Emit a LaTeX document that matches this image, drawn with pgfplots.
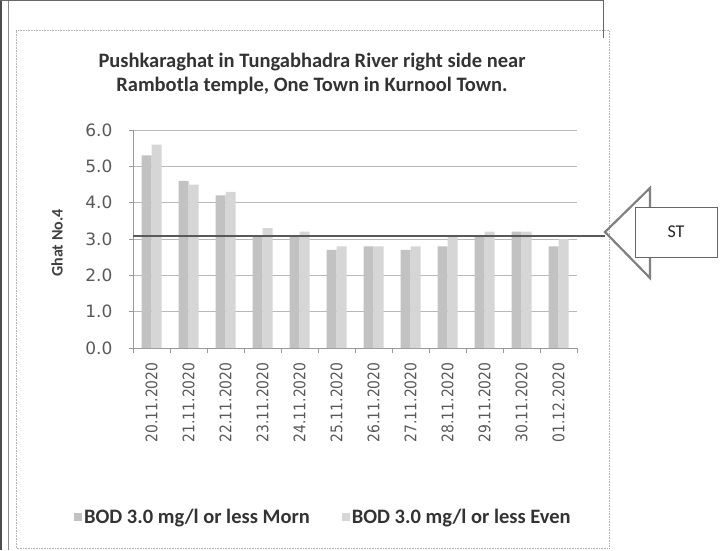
\documentclass[border=0pt]{standalone}
\usepackage{pgfplots}
\pgfplotsset{compat=1.18}
\usepackage{fontspec}
\setmainfont{Carlito}
\newfontfamily\tickfont{DejaVu Sans}
\newfontfamily\tickfontx[FakeStretch=0.87]{DejaVu Sans}
\definecolor{morn}{HTML}{C2C2C2}
\definecolor{even}{HTML}{D6D6D6}
\begin{document}
\begin{tikzpicture}[x=1pt,y=1pt]
\path[use as bounding box] (0,0) rectangle (724,550);
% page borders
\draw[black!70, line width=2pt] (1,0) -- (1,550);
\draw[black!45, line width=0.8pt] (8,0) -- (8,550);
\draw[black!60, line width=1pt] (0,549) -- (603,549) -- (603,512);
% chart frame
\draw[black!30, line width=0.6pt, densely dotted] (16,2) rectangle (609,520);
% title
\node[align=center, font=\bfseries\fontsize{20.5}{24}\selectfont, text=black!80] at (312,476)
  {Pushkaraghat in Tungabhadra River right side near\\Rambotla temple, One Town in Kurnool Town.};
% y label
\node[rotate=90, font=\bfseries\fontsize{16}{16}\selectfont, text=black!75] at (57,307) {Ghat No.4};
\begin{axis}[
  at={(133pt,202pt)}, anchor=south west,
  scale only axis, width=444pt, height=218pt,
  ybar=0pt, bar width=10pt,
  ymin=0, ymax=6, ytick={0,1,...,6},
  xmin=-0.5, xmax=11.5, xtick={0,...,11},
  xticklabels={20.11.2020,21.11.2020,22.11.2020,23.11.2020,24.11.2020,25.11.2020,26.11.2020,27.11.2020,28.11.2020,29.11.2020,30.11.2020,01.12.2020},
  minor xtick={-0.5,0.5,...,11.5},
  major x tick style={draw=none},
  axis x line*=bottom, axis y line*=left,
  axis line style={black!40, line width=0.7pt},
  tick style={black!40, line width=0.7pt},
  tick align=outside, major tick length=4pt, minor tick length=5pt,
  ymajorgrids, grid style={black!28, line width=0.6pt},
  /pgf/number format/assume math mode=true,
  yticklabel shift=13pt,
  xticklabel shift=7pt,
  yticklabel style={font=\tickfont\fontsize{17}{17}\selectfont, text=black!65,
    /pgf/number format/.cd, fixed, fixed zerofill, precision=1},
  xticklabel style={rotate=90, anchor=east, font=\tickfontx\fontsize{16}{16}\selectfont, text=black!65},
  clip=false,
  legend style={at={(-0.14,-0.775)}, anchor=west, draw=none, fill=none,
    legend columns=2, font=\bfseries\fontsize{20.5}{20.5}\selectfont, text=black!80,
    /tikz/every even column/.append style={column sep=30pt}},
  legend image code/.code={\fill[#1,draw=none] (0pt,-4pt) rectangle (8pt,4pt);},
]
\addplot[fill=morn, draw=none] coordinates {(0,5.3) (1,4.6) (2,4.2) (3,3.1) (4,3.1) (5,2.7) (6,2.8) (7,2.7) (8,2.8) (9,3.1) (10,3.2) (11,2.8)};
\addplot[fill=even, draw=none] coordinates {(0,5.6) (1,4.5) (2,4.3) (3,3.3) (4,3.2) (5,2.8) (6,2.8) (7,2.8) (8,3.1) (9,3.2) (10,3.2) (11,3.0)};
\legend{BOD 3.0 mg/l or less Morn, BOD 3.0 mg/l or less Even}
\draw[black!65, line width=2.5pt] (axis cs:-0.5,3.08) -- (axis cs:12.26,3.08);
\end{axis}
% ST arrow
\draw[black!50, line width=2.2pt, line join=miter] (605,318) -- (650,362) -- (650,272) -- cycle;
\draw[black!60, line width=0.6pt, fill=white] (635,293) rectangle (717,343);
\node[font=\fontsize{18}{18}\selectfont, text=black!85] at (676,318) {ST};
\end{tikzpicture}
\end{document}
